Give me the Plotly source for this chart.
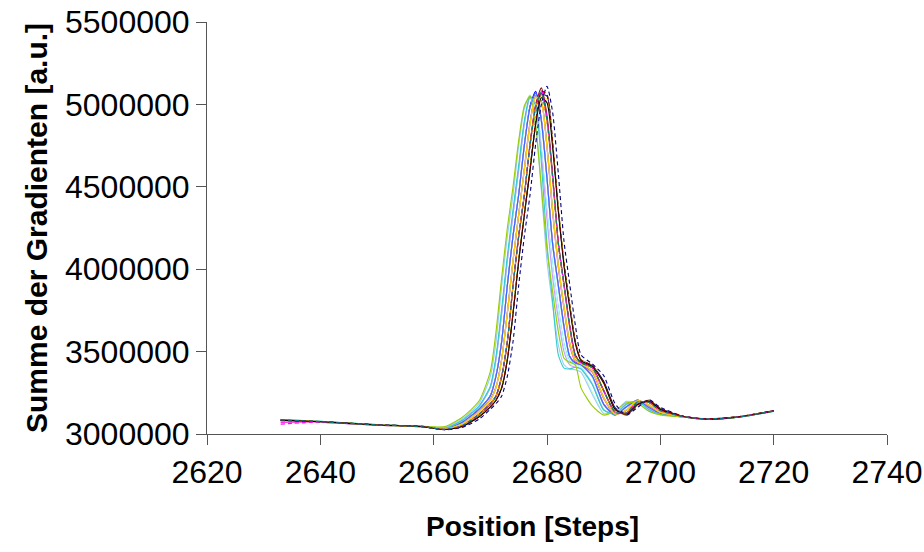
import plotly.graph_objects as go

# Positions (steps) shared by all series
positions = [2633, 2640, 2650, 2658, 2662, 2665, 2668, 2670, 2671, 2672, 2673, 2674, 2675,
             2676, 2677, 2678, 2679, 2680, 2681, 2682, 2683, 2684, 2685, 2686, 2688, 2690,
             2692, 2694, 2696, 2698, 2700, 2704, 2708, 2714, 2720]

# Sum of gradients per series, in thousands [a.u. / 1000]
s01 = [3085, 3074, 3056, 3046, 3027, 3045, 3105, 3165, 3205, 3280, 3450, 3730, 4050, 4330, 4600, 4880, 5060, 5050, 4760, 4360, 4030, 3780, 3560, 3450, 3415, 3320, 3160, 3115, 3175, 3205, 3155, 3108, 3092, 3104, 3140]
s02 = [3070, 3072, 3054, 3044, 3032, 3062, 3140, 3210, 3285, 3455, 3735, 4050, 4330, 4610, 4890, 5045, 5015, 4740, 4340, 4010, 3760, 3540, 3440, 3420, 3375, 3215, 3118, 3145, 3200, 3172, 3128, 3104, 3088, 3103, 3138]
s03 = [3082, 3076, 3055, 3045, 3028, 3046, 3110, 3170, 3210, 3290, 3460, 3740, 4060, 4340, 4610, 4890, 5050, 5030, 4760, 4370, 4040, 3790, 3560, 3450, 3412, 3305, 3148, 3118, 3178, 3202, 3152, 3106, 3090, 3106, 3142]
s04 = [3088, 3077, 3057, 3044, 3030, 3072, 3152, 3235, 3355, 3565, 3905, 4205, 4455, 4755, 4985, 5070, 4895, 4540, 4140, 3890, 3640, 3465, 3428, 3418, 3345, 3178, 3114, 3166, 3204, 3158, 3124, 3103, 3091, 3102, 3137]
s05 = [3080, 3073, 3054, 3046, 3029, 3051, 3121, 3186, 3232, 3352, 3562, 3902, 4202, 4452, 4752, 4982, 5070, 4905, 4555, 4155, 3905, 3655, 3475, 3432, 3402, 3262, 3132, 3128, 3193, 3192, 3142, 3107, 3089, 3105, 3141]
s06 = [3084, 3075, 3056, 3045, 3028, 3049, 3118, 3182, 3228, 3345, 3555, 3895, 4195, 4445, 4760, 5000, 5100, 4930, 4570, 4160, 3910, 3660, 3480, 3435, 3405, 3265, 3135, 3125, 3190, 3195, 3145, 3108, 3091, 3104, 3139]
s07 = [3086, 3074, 3055, 3043, 3030, 3060, 3136, 3206, 3282, 3452, 3732, 4052, 4332, 4602, 4882, 5055, 5020, 4745, 4355, 4025, 3775, 3555, 3448, 3426, 3382, 3222, 3122, 3143, 3203, 3176, 3131, 3105, 3090, 3103, 3140]
s08 = [3083, 3072, 3053, 3045, 3031, 3071, 3151, 3232, 3352, 3562, 3902, 4202, 4452, 4752, 4990, 5080, 4910, 4555, 4155, 3905, 3655, 3472, 3432, 3422, 3352, 3182, 3117, 3163, 3206, 3161, 3126, 3104, 3089, 3106, 3141]
s09 = [3087, 3076, 3056, 3044, 3036, 3082, 3168, 3285, 3455, 3735, 4055, 4335, 4605, 4885, 5040, 5005, 4735, 4345, 4015, 3765, 3545, 3442, 3422, 3405, 3305, 3148, 3122, 3182, 3198, 3148, 3121, 3103, 3088, 3104, 3139]
s10 = [3084, 3075, 3054, 3045, 3035, 3080, 3165, 3280, 3450, 3730, 4050, 4330, 4600, 4880, 5035, 5000, 4730, 4340, 4010, 3760, 3540, 3440, 3420, 3405, 3305, 3150, 3120, 3180, 3200, 3150, 3122, 3104, 3090, 3105, 3140]
s11 = [3086, 3077, 3056, 3046, 3041, 3092, 3188, 3355, 3565, 3905, 4205, 4455, 4755, 4985, 5060, 4890, 4540, 4140, 3890, 3640, 3460, 3425, 3415, 3395, 3255, 3128, 3132, 3196, 3188, 3138, 3117, 3103, 3089, 3105, 3140]
s12 = [3085, 3074, 3055, 3044, 3030, 3070, 3148, 3228, 3348, 3558, 3898, 4198, 4448, 4748, 4975, 5060, 4895, 4545, 4145, 3895, 3645, 3468, 3428, 3418, 3348, 3178, 3115, 3165, 3204, 3159, 3125, 3105, 3090, 3104, 3141]
s13 = [3082, 3073, 3054, 3045, 3040, 3090, 3185, 3350, 3560, 3900, 4200, 4450, 4750, 4975, 5050, 4870, 4480, 4050, 3780, 3540, 3420, 3395, 3390, 3375, 3240, 3125, 3135, 3198, 3188, 3138, 3118, 3104, 3091, 3103, 3139]
s14 = [3075, 3070, 3054, 3046, 3032, 3070, 3150, 3232, 3352, 3562, 3900, 4200, 4450, 4750, 4980, 5065, 4900, 4550, 4150, 3900, 3650, 3470, 3430, 3420, 3350, 3180, 3115, 3165, 3205, 3160, 3125, 3106, 3092, 3105, 3142]
s15 = [3083, 3074, 3055, 3044, 3035, 3080, 3165, 3280, 3450, 3730, 4050, 4330, 4600, 4880, 5040, 5000, 4700, 4300, 3950, 3700, 3500, 3420, 3405, 3395, 3300, 3148, 3120, 3180, 3200, 3150, 3122, 3104, 3090, 3106, 3140]
s16 = [3086, 3076, 3056, 3045, 3030, 3060, 3135, 3205, 3280, 3450, 3730, 4050, 4330, 4600, 4880, 5040, 5010, 4740, 4350, 4020, 3770, 3550, 3445, 3425, 3380, 3220, 3120, 3145, 3202, 3175, 3130, 3105, 3089, 3104, 3140]
s17 = [3084, 3075, 3055, 3045, 3030, 3070, 3150, 3230, 3350, 3560, 3900, 4200, 4450, 4750, 4980, 5070, 4900, 4550, 4150, 3900, 3650, 3470, 3430, 3420, 3350, 3180, 3115, 3165, 3205, 3160, 3125, 3105, 3090, 3105, 3140]
s18 = [3088, 3077, 3057, 3046, 3035, 3082, 3170, 3290, 3470, 3760, 4080, 4360, 4630, 4900, 5050, 4990, 4650, 4150, 3800, 3480, 3400, 3395, 3405, 3395, 3300, 3145, 3120, 3180, 3198, 3148, 3120, 3104, 3090, 3105, 3141]
s19 = [3085, 3076, 3056, 3046, 3045, 3100, 3200, 3380, 3620, 3950, 4250, 4500, 4780, 4990, 5050, 4870, 4500, 4120, 3860, 3620, 3460, 3435, 3420, 3280, 3170, 3115, 3140, 3190, 3185, 3138, 3116, 3103, 3088, 3104, 3139]
s20 = [3083, 3074, 3054, 3045, 3030, 3061, 3137, 3207, 3284, 3455, 3735, 4055, 4335, 4605, 4885, 5045, 5015, 4745, 4355, 4025, 3775, 3555, 3447, 3426, 3383, 3222, 3121, 3146, 3203, 3176, 3131, 3106, 3091, 3106, 3141]
s21 = [3085, 3075, 3055, 3045, 3028, 3050, 3120, 3185, 3230, 3350, 3560, 3900, 4200, 4450, 4750, 4980, 5060, 4895, 4545, 4145, 3895, 3645, 3468, 3430, 3400, 3260, 3130, 3130, 3195, 3190, 3140, 3107, 3090, 3105, 3140]
s22 = [3084, 3074, 3055, 3045, 3027, 3045, 3105, 3165, 3205, 3280, 3450, 3730, 4050, 4330, 4600, 4880, 5040, 5010, 4740, 4350, 4020, 3770, 3550, 3445, 3410, 3310, 3150, 3120, 3180, 3200, 3150, 3106, 3090, 3104, 3140]
s23 = [3082, 3075, 3056, 3046, 3025, 3040, 3090, 3150, 3185, 3230, 3350, 3560, 3900, 4200, 4450, 4760, 5000, 5110, 4950, 4580, 4170, 3910, 3660, 3480, 3425, 3355, 3185, 3115, 3162, 3208, 3162, 3108, 3091, 3105, 3141]
s24 = [3060, 3072, 3055, 3045, 3028, 3050, 3120, 3185, 3230, 3350, 3560, 3900, 4200, 4450, 4755, 4990, 5090, 4920, 4560, 4160, 3905, 3655, 3472, 3432, 3402, 3262, 3132, 3128, 3195, 3192, 3142, 3107, 3090, 3105, 3141]
s25 = [3083, 3075, 3056, 3045, 3027, 3045, 3105, 3165, 3205, 3280, 3450, 3730, 4050, 4330, 4610, 4900, 5080, 5060, 4770, 4370, 4040, 3790, 3565, 3450, 3415, 3315, 3155, 3118, 3178, 3204, 3154, 3108, 3092, 3106, 3142]
s26 = [3086, 3075, 3055, 3044, 3028, 3050, 3120, 3185, 3230, 3350, 3560, 3900, 4200, 4450, 4750, 4980, 5075, 4905, 4555, 4155, 3905, 3655, 3475, 3432, 3402, 3262, 3132, 3128, 3194, 3191, 3141, 3106, 3091, 3104, 3140]

series_values = [s01, s02, s03, s04, s05, s06, s07, s08, s09, s10, s11, s12, s13,
                 s14, s15, s16, s17, s18, s19, s20, s21, s22, s23, s24, s25, s26]

series_colors = ["#000080", "#FF00FF", "#FFFF00", "#00FFFF", "#800080", "#800000", "#008080",
                 "#0000FF", "#00CCFF", "#CCFFFF", "#CCFFCC", "#FFFF99", "#99CCFF", "#FF99CC",
                 "#CC99FF", "#FFCC99", "#3366FF", "#33CCCC", "#99CC00", "#FFCC00", "#FF9900",
                 "#000000", "#000080", "#FF00FF", "#800000", "#008080"]
series_dashes = ["solid"] * 22 + ["4px,3px"] * 4

fig = go.Figure()
for i, vals in enumerate(series_values):
    fig.add_trace(go.Scatter(
        x=positions,
        y=[v * 1000 for v in vals],
        mode="lines",
        line=dict(color=series_colors[i], width=1.1, dash=series_dashes[i],
                  shape="spline", smoothing=0.6),
        showlegend=False,
        hoverinfo="skip",
    ))

font_family = "Liberation Sans, Arial, sans-serif"
axis_color = "#555555"

fig.update_layout(
    width=924, height=552,
    margin=dict(l=207, r=37, t=22, b=118),
    paper_bgcolor="white", plot_bgcolor="white",
    font=dict(family=font_family, color="black"),
    xaxis=dict(
        range=[2620, 2740], dtick=20, tick0=2620, automargin=False,
        showgrid=False, zeroline=False,
        showline=True, linecolor=axis_color, linewidth=1,
        ticks="outside", ticklen=10, tickcolor=axis_color, tickwidth=1,
        tickfont=dict(size=32, family=font_family, color="black"),
    ),
    yaxis=dict(
        range=[3000000, 5500000], dtick=500000, tick0=3000000, automargin=False,
        tickformat="d",
        showgrid=False, zeroline=False,
        showline=True, linecolor=axis_color, linewidth=1,
        ticks="outside", ticklen=10, tickcolor=axis_color, tickwidth=1,
        tickfont=dict(size=32, family=font_family, color="black"),
        title=dict(text="<b>Summe der Gradienten [a.u.]</b>", font=dict(size=30, family=font_family),
                   standoff=8),
    ),
    annotations=[dict(
        text="<b>Position [Steps]</b>", xref="paper", yref="paper",
        x=0.479, y=-0.225, xanchor="center", yanchor="middle", showarrow=False,
        font=dict(size=28, family=font_family, color="black"),
    )],
)

fig.write_html("out.html")
